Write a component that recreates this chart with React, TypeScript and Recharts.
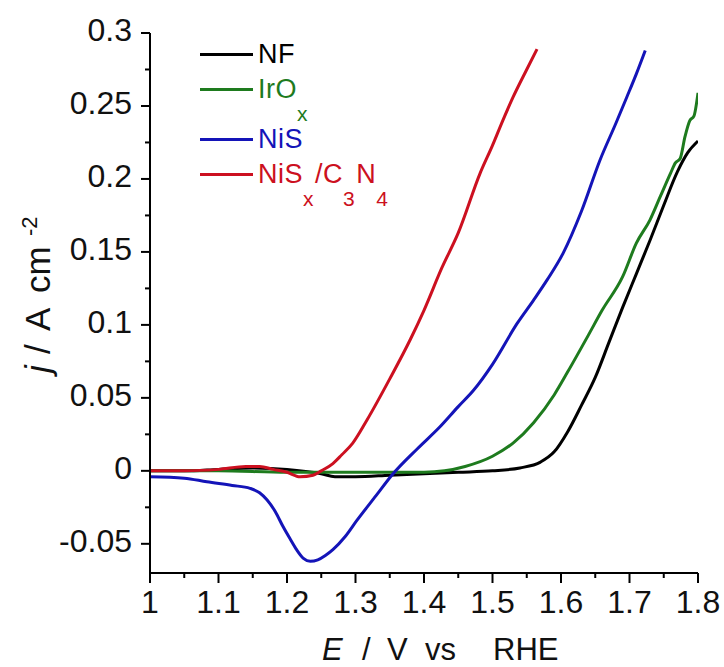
import React from 'react';
import { LineChart, Line, XAxis, YAxis, Label } from 'recharts';

// Polarisation curves, potential E (V vs RHE) against current density j (A cm^-2)
const nfE = [1.0, 1.05, 1.1, 1.15, 1.2, 1.25, 1.27, 1.3, 1.35, 1.4, 1.45, 1.5, 1.54, 1.57, 1.59, 1.61, 1.63, 1.65, 1.67, 1.69, 1.71, 1.73, 1.75, 1.77, 1.785, 1.8];
const nfJ = [0.0, 0.0, 0.001, 0.002, 0.001, -0.002, -0.004, -0.004, -0.003, -0.002, -0.001, 0.0, 0.002, 0.006, 0.013, 0.027, 0.045, 0.064, 0.088, 0.112, 0.135, 0.158, 0.182, 0.205, 0.218, 0.226];

const irE = [1.0, 1.1, 1.2, 1.3, 1.4, 1.43, 1.46, 1.5, 1.53, 1.56, 1.59, 1.61, 1.64, 1.66, 1.69, 1.71, 1.73, 1.745, 1.76, 1.767, 1.774, 1.781, 1.788, 1.794, 1.8];
const irJ = [0.0, 0.0, -0.001, -0.001, -0.001, 0.0, 0.003, 0.01, 0.019, 0.033, 0.052, 0.068, 0.093, 0.11, 0.133, 0.156, 0.172, 0.188, 0.204, 0.211, 0.214, 0.229, 0.24, 0.243, 0.259];

const nisE = [1.0, 1.05, 1.083, 1.12, 1.146, 1.16, 1.171, 1.183, 1.194, 1.205, 1.214, 1.224, 1.234, 1.245, 1.256, 1.267, 1.285, 1.302, 1.33, 1.353, 1.39, 1.423, 1.45, 1.472, 1.5, 1.536, 1.56, 1.58, 1.603, 1.63, 1.657, 1.68, 1.696, 1.71, 1.723];
const nisJ = [-0.004, -0.005, -0.0075, -0.01, -0.012, -0.015, -0.02, -0.028, -0.038, -0.047, -0.054, -0.06, -0.062, -0.061, -0.058, -0.054, -0.045, -0.034, -0.017, -0.003, 0.015, 0.03, 0.044, 0.055, 0.073, 0.101, 0.117, 0.131, 0.149, 0.178, 0.213, 0.238, 0.256, 0.272, 0.288];

const compE = [1.0, 1.05, 1.1, 1.14, 1.16, 1.18, 1.2, 1.219, 1.238, 1.25, 1.267, 1.28, 1.296, 1.317, 1.35, 1.38, 1.4, 1.426, 1.45, 1.482, 1.5, 1.515, 1.53, 1.55, 1.565];
const compJ = [0.0, 0.0, 0.001, 0.003, 0.003, 0.001, -0.001, -0.004, -0.003, 0.0, 0.005, 0.011, 0.019, 0.035, 0.063, 0.09, 0.11, 0.139, 0.163, 0.204, 0.223, 0.24, 0.256, 0.275, 0.289];

const xTicks = [1, 1.05, 1.1, 1.15, 1.2, 1.25, 1.3, 1.35, 1.4, 1.45, 1.5, 1.55, 1.6, 1.65, 1.7, 1.75, 1.8];
const yTicks = [-0.05, -0.025, 0, 0.025, 0.05, 0.075, 0.1, 0.125, 0.15, 0.175, 0.2, 0.225, 0.25, 0.275, 0.3];

const toPoints = (e: number[], j: number[]) => e.map((v, i) => ({ E: v, j: j[i] }));

type Part = { t: string; sub?: boolean };

const series: { key: string; label: Part[]; color: string; data: { E: number; j: number }[] }[] = [
  { key: 'NF', label: [{ t: 'NF' }], color: '#000000', data: toPoints(nfE, nfJ) },
  { key: 'IrOx', label: [{ t: 'IrO' }, { t: 'x', sub: true }], color: '#1e7b1e', data: toPoints(irE, irJ) },
  { key: 'NiS', label: [{ t: 'NiS' }], color: '#1414b8', data: toPoints(nisE, nisJ) },
  {
    key: 'NiSx/C3N4',
    label: [{ t: 'NiS' }, { t: 'x', sub: true }, { t: '/C' }, { t: '3', sub: true }, { t: 'N' }, { t: '4', sub: true }],
    color: '#cc1020',
    data: toPoints(compE, compJ),
  },
];

const FONT = '"Liberation Sans", Arial, Helvetica, sans-serif';
const INK = '#111';

const isMajor = (v: number, step: number) => Math.abs(v / step - Math.round(v / step)) < 1e-6;

const YTick = ({ x, y, payload }: any) => {
  const v = payload.value;
  const major = isMajor(v, 0.05);
  return (
    <g>
      <line x1={x} x2={x - (major ? 9 : 5)} y1={y} y2={y} stroke="#000" strokeWidth={2} />
      {major && (
        <text x={x - 18} y={y - 3} textAnchor="end" dominantBaseline="central" fontSize={32} fontFamily={FONT} fill={INK}>
          {String(v)}
        </text>
      )}
    </g>
  );
};

const XTick = ({ x, y, payload }: any) => {
  const v = payload.value;
  const major = isMajor(v, 0.1);
  return (
    <g>
      <line x1={x} x2={x} y1={y} y2={y + (major ? 10 : 5)} stroke="#000" strokeWidth={2} />
      {major && (
        <text x={x} y={y + 40} textAnchor="middle" fontSize={32} fontFamily={FONT} fill={INK}>
          {String(v)}
        </text>
      )}
    </g>
  );
};

// rotated title, read bottom to top, with the "-2" raised as a superscript
const YTitle = ({ viewBox }: any) => {
  const bx = viewBox.x + 50;
  const by = viewBox.y + 340;
  return (
    <text x={bx} y={by} transform={`rotate(-90 ${bx} ${by})`} fontSize={35} fontFamily={FONT} fill={INK}>
      <tspan x={bx} fontStyle="italic">j</tspan>
      <tspan x={bx + 19}>/</tspan>
      <tspan x={bx + 42}>A</tspan>
      <tspan x={bx + 80}>cm</tspan>
      <tspan x={bx + 137} dy={-13} fontSize={22}>-2</tspan>
    </text>
  );
};

const XTitle = ({ viewBox }: any) => {
  const bx = viewBox.x + 172;
  const by = viewBox.y + 87;
  return (
    <text x={bx} y={by} fontSize={31} fontFamily={FONT} fill={INK}>
      <tspan x={bx} fontStyle="italic">E</tspan>
      <tspan x={bx + 40}>/</tspan>
      <tspan x={bx + 65}>V</tspan>
      <tspan x={bx + 103}>vs</tspan>
      <tspan x={bx + 171}>RHE</tspan>
    </text>
  );
};

const Legend = () => (
  <div style={{ position: 'absolute', left: 200, top: 37, fontFamily: FONT, fontSize: 27 }}>
    {series.map((s) => {
      const subOnly = s.label.length === 2 && s.label[1].sub;
      return (
        <div
          key={s.key}
          style={{ display: 'flex', alignItems: 'center', height: 34, marginBottom: subOnly ? 16 : 1, color: s.color }}
        >
          <div style={{ width: 53, height: 3, background: s.color, marginRight: 5 }} />
          <span style={{ whiteSpace: 'nowrap', letterSpacing: 0.5 }}>
            {s.label.map((p, i) =>
              p.sub ? (
                <span key={i} style={{ position: 'relative', top: 23, fontSize: 21, marginRight: 1 }}>
                  {p.t}
                </span>
              ) : (
                <span key={i}>{p.t}</span>
              )
            )}
          </span>
        </div>
      );
    })}
  </div>
);

export default function App() {
  return (
    <div style={{ position: 'absolute', left: 0, top: 0, width: 724, height: 667, background: '#fff' }}>
      <LineChart width={724} height={667} margin={{ top: 33, right: 26, bottom: 0, left: 0 }}>
        <XAxis
          type="number"
          dataKey="E"
          domain={[1, 1.8]}
          ticks={xTicks}
          interval={0}
          allowDataOverflow
          height={94}
          tickSize={0}
          tickMargin={0}
          tick={<XTick />}
          axisLine={{ stroke: '#000', strokeWidth: 2 }}
        >
          <Label content={<XTitle />} />
        </XAxis>
        <YAxis
          type="number"
          domain={[-0.07, 0.3]}
          ticks={yTicks}
          interval={0}
          allowDataOverflow
          width={150}
          tickSize={0}
          tickMargin={0}
          tick={<YTick />}
          axisLine={{ stroke: '#000', strokeWidth: 2 }}
        >
          <Label content={<YTitle />} />
        </YAxis>
        {series.map((s) => (
          <Line
            key={s.key}
            data={s.data}
            dataKey="j"
            type="monotone"
            stroke={s.color}
            strokeWidth={3}
            dot={false}
            activeDot={false}
            isAnimationActive={false}
          />
        ))}
      </LineChart>
      <Legend />
    </div>
  );
}
